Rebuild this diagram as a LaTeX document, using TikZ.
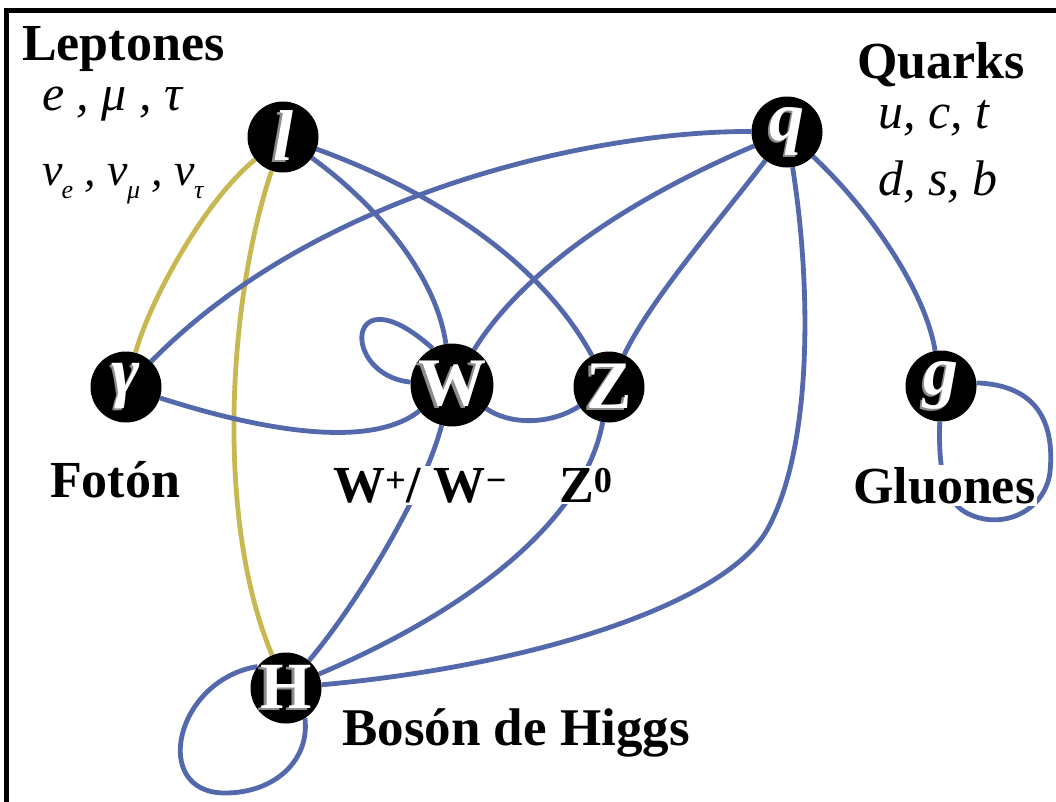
\documentclass[tikz,border=0pt]{standalone}
\usepackage{fontspec}
\setmainfont{Liberation Serif}
\definecolor{edgeblue}{RGB}{84,104,172}
\definecolor{edgeyellow}{RGB}{200,184,82}
\newcommand\emb[1]{\rlap{\kern-2.5pt\raisebox{-2pt}{\textcolor{black!45}{#1}}}\textcolor{white}{#1}}
\newcommand\fs[1]{\fontsize{#1}{#1}\selectfont}
\newcommand\nsub[1]{\kern-1pt\raisebox{-0.3em}{\fs{26}#1}}
\pgfdeclarelayer{edges}
\pgfsetlayers{edges,main}
\begin{document}
\begin{tikzpicture}[x=1pt,y=-1pt,
  particle/.style={circle,fill=black,minimum size=71pt,inner sep=0pt},
  blueline/.style={draw=edgeblue,line width=4.8pt},
  yellowline/.style={draw=edgeyellow,line width=4.8pt},
  grp/.style={font=\fs{52}\bfseries,anchor=base west,inner sep=0pt},
  mem/.style={font=\fs{50}\itshape,anchor=base west,inner sep=0pt},
  cover/.style={fill=white,inner sep=2pt}]
\useasboundingbox (0,0) rectangle (1056,801);
% frame
\draw[line width=5pt] (6,900) -- (6,10) -- (1100,10);

% particles
\node[particle] (l) at (283,137) {\fs{72}\bfseries\itshape\emb{l}};
\node[particle] (q) at (787,132) {\fs{70}\bfseries\itshape\emb{q}};
\node[particle] (gam) at (126,387) {\fs{68}\bfseries\itshape\emb{γ}};
\node[particle] (W) at (452,385) {\fs{68}\bfseries\emb{W}};
\node[particle] (Z) at (609,387) {\fs{68}\bfseries\emb{Z}};
\node[particle] (g) at (941,386) {\fs{70}\bfseries\itshape\emb{g}};
\node[particle] (H) at (286,688) {\fs{66}\bfseries\emb{H}};

% edges
\begin{pgfonlayer}{edges}
\draw[yellowline] (l) .. controls (205,200) and (150,300) .. (gam);
\draw[yellowline] (l) .. controls (228,300) and (215,520) .. (H);
\draw[blueline] (l) .. controls (370,200) and (435,270) .. (W);
\draw[blueline] (l) .. controls (430,190) and (540,260) .. (Z);
\draw[blueline] (q) .. controls (620,130) and (330,180) .. (gam);
\draw[blueline] (q) .. controls (650,190) and (530,260) .. (W);
\draw[blueline] (q) .. controls (720,220) and (650,300) .. (Z);
\draw[blueline] (q) .. controls (870,210) and (925,290) .. (g);
\draw[blueline] (q) .. controls (812,290) and (812,450) .. (767,530)
  .. controls (726,602) and (540,665) .. (H);
\draw[blueline] (gam) .. controls (260,430) and (370,450) .. (W);
\draw[blueline] (W) .. controls (510,425) and (550,425) .. (Z);
\draw[blueline] (W.176) .. controls (340,375) and (345,270) .. (W.118);
\draw[blueline] (W) .. controls (425,490) and (360,600) .. (H);
\draw[blueline] (Z) .. controls (585,520) and (470,610) .. (H);
\draw[blueline] (g.5) .. controls (1035,385) and (1055,420) .. (1050,472)
  .. controls (1045,512) and (1000,532) .. (965,512)
  .. controls (945,500) and (938,470) .. (g.-92);
\draw[blueline] (H.143) .. controls (175,680) and (150,793) .. (225,793)
  .. controls (275,793) and (310,760) .. (H.-58);
\end{pgfonlayer}

% labels
\node[grp] (tlep) at (22,60) {Leptones};
\node[mem] (tlep1) at (42,110) {e , μ , τ};
\node[mem,font=\fs{46}\itshape] (tlep2) at (42,185) {ν\nsub{e} , ν\nsub{μ} , ν\nsub{τ}};
\node[grp] (tqua) at (857,78) {Quarks};
\node[mem] (tqua1) at (878,128) {u, c, t};
\node[mem] (tqua2) at (878,195) {d, s, b};
\node[grp] (tfot) at (50,497) {Fotón};
\node[grp,cover] (tw) at (331,502) {W\textsuperscript{+}/ W\textsuperscript{−}};
\node[grp,cover] (tz) at (557,502) {Z\textsuperscript{0}};
\node[grp,cover] (tglu) at (851,503) {Gluones};
\node[grp,font=\fs{53}\bfseries] (thig) at (342,745) {Bosón de Higgs};
\end{tikzpicture}
\end{document}
